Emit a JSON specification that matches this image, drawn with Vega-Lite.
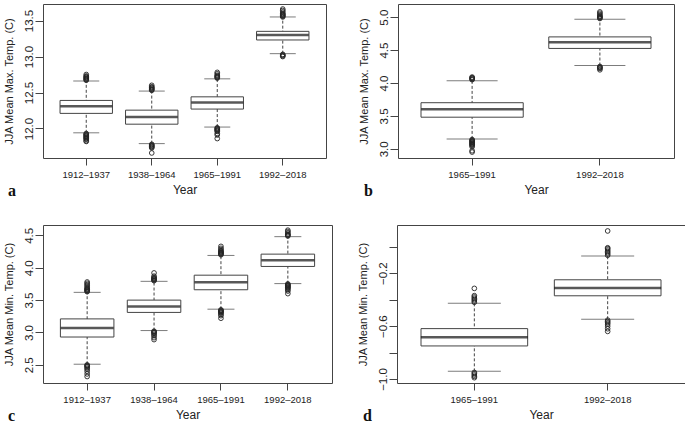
{
  "$schema": "https://vega.github.io/schema/vega-lite/v6.json",
  "padding": {"left": 2, "top": 3, "right": 0, "bottom": 0},
  "background": "white",
  "spacing": 25,
  "config": {
    "font": "Liberation Sans",
    "view": {"stroke": "#444", "strokeWidth": 1},
    "axis": {"grid": false, "domain": false, "tickColor": "#444", "labelColor": "#222", "titleColor": "#222", "labelFont": "Liberation Sans", "titleFont": "Liberation Sans", "titleFontWeight": "normal"},
    "axisX": {"tickSize": 7, "labelPadding": 4, "labelFontSize": 9.5, "titleFontSize": 12, "titlePadding": 6, "labelAngle": 0},
    "axisY": {"tickSize": 8, "labelPadding": 1, "labelFontSize": 11.5, "titleFontSize": 11, "titlePadding": 9, "labelOverlap": false}
  },
  "datasets": {
    "box_a": [
      {"period": "1912–1937", "lo": 11.94, "q1": 12.21, "med": 12.31, "q3": 12.39, "hi": 12.66},
      {"period": "1938–1964", "lo": 11.79, "q1": 12.06, "med": 12.16, "q3": 12.255, "hi": 12.52},
      {"period": "1965–1991", "lo": 12.02, "q1": 12.27, "med": 12.36, "q3": 12.44, "hi": 12.69},
      {"period": "1992–2018", "lo": 13.04, "q1": 13.23, "med": 13.30, "q3": 13.35, "hi": 13.55}
    ],
    "out_a": [
      {"period": "1912–1937", "value": 12.67}, {"period": "1912–1937", "value": 12.68}, {"period": "1912–1937", "value": 12.69}, {"period": "1912–1937", "value": 12.70}, {"period": "1912–1937", "value": 12.71}, {"period": "1912–1937", "value": 12.72}, {"period": "1912–1937", "value": 12.73}, {"period": "1912–1937", "value": 12.75},
      {"period": "1912–1937", "value": 11.93}, {"period": "1912–1937", "value": 11.92}, {"period": "1912–1937", "value": 11.91}, {"period": "1912–1937", "value": 11.90}, {"period": "1912–1937", "value": 11.89}, {"period": "1912–1937", "value": 11.88}, {"period": "1912–1937", "value": 11.87}, {"period": "1912–1937", "value": 11.86}, {"period": "1912–1937", "value": 11.85}, {"period": "1912–1937", "value": 11.83}, {"period": "1912–1937", "value": 11.82},
      {"period": "1938–1964", "value": 12.53}, {"period": "1938–1964", "value": 12.54}, {"period": "1938–1964", "value": 12.55}, {"period": "1938–1964", "value": 12.56}, {"period": "1938–1964", "value": 12.57}, {"period": "1938–1964", "value": 12.58}, {"period": "1938–1964", "value": 12.60},
      {"period": "1938–1964", "value": 11.78}, {"period": "1938–1964", "value": 11.77}, {"period": "1938–1964", "value": 11.76}, {"period": "1938–1964", "value": 11.75}, {"period": "1938–1964", "value": 11.74}, {"period": "1938–1964", "value": 11.73}, {"period": "1938–1964", "value": 11.66},
      {"period": "1965–1991", "value": 12.70}, {"period": "1965–1991", "value": 12.71}, {"period": "1965–1991", "value": 12.72}, {"period": "1965–1991", "value": 12.73}, {"period": "1965–1991", "value": 12.74}, {"period": "1965–1991", "value": 12.76}, {"period": "1965–1991", "value": 12.78},
      {"period": "1965–1991", "value": 12.01}, {"period": "1965–1991", "value": 12.00}, {"period": "1965–1991", "value": 11.99}, {"period": "1965–1991", "value": 11.98}, {"period": "1965–1991", "value": 11.97}, {"period": "1965–1991", "value": 11.96}, {"period": "1965–1991", "value": 11.93}, {"period": "1965–1991", "value": 11.91}, {"period": "1965–1991", "value": 11.86},
      {"period": "1992–2018", "value": 13.55}, {"period": "1992–2018", "value": 13.56}, {"period": "1992–2018", "value": 13.57}, {"period": "1992–2018", "value": 13.58}, {"period": "1992–2018", "value": 13.59}, {"period": "1992–2018", "value": 13.60}, {"period": "1992–2018", "value": 13.62}, {"period": "1992–2018", "value": 13.64}, {"period": "1992–2018", "value": 13.66},
      {"period": "1992–2018", "value": 13.03}, {"period": "1992–2018", "value": 13.02}, {"period": "1992–2018", "value": 13.01}, {"period": "1992–2018", "value": 13.00}
    ],
    "box_b": [
      {"period": "1965–1991", "lo": 3.15, "q1": 3.48, "med": 3.60, "q3": 3.70, "hi": 4.035},
      {"period": "1992–2018", "lo": 4.265, "q1": 4.525, "med": 4.62, "q3": 4.70, "hi": 4.97}
    ],
    "out_b": [
      {"period": "1965–1991", "value": 4.05}, {"period": "1965–1991", "value": 4.06}, {"period": "1965–1991", "value": 4.07}, {"period": "1965–1991", "value": 4.08}, {"period": "1965–1991", "value": 4.09},
      {"period": "1965–1991", "value": 3.14}, {"period": "1965–1991", "value": 3.13}, {"period": "1965–1991", "value": 3.12}, {"period": "1965–1991", "value": 3.11}, {"period": "1965–1991", "value": 3.10}, {"period": "1965–1991", "value": 3.09}, {"period": "1965–1991", "value": 3.08}, {"period": "1965–1991", "value": 3.07}, {"period": "1965–1991", "value": 3.06}, {"period": "1965–1991", "value": 3.05}, {"period": "1965–1991", "value": 3.03}, {"period": "1965–1991", "value": 2.97}, {"period": "1965–1991", "value": 2.95},
      {"period": "1992–2018", "value": 4.98}, {"period": "1992–2018", "value": 4.99}, {"period": "1992–2018", "value": 5.00}, {"period": "1992–2018", "value": 5.01}, {"period": "1992–2018", "value": 5.02}, {"period": "1992–2018", "value": 5.04}, {"period": "1992–2018", "value": 5.06}, {"period": "1992–2018", "value": 5.08},
      {"period": "1992–2018", "value": 4.25}, {"period": "1992–2018", "value": 4.24}, {"period": "1992–2018", "value": 4.23}, {"period": "1992–2018", "value": 4.22}, {"period": "1992–2018", "value": 4.20}
    ],
    "box_c": [
      {"period": "1912–1937", "lo": 2.51, "q1": 2.93, "med": 3.07, "q3": 3.21, "hi": 3.62},
      {"period": "1938–1964", "lo": 3.03, "q1": 3.31, "med": 3.40, "q3": 3.50, "hi": 3.79},
      {"period": "1965–1991", "lo": 3.36, "q1": 3.66, "med": 3.775, "q3": 3.885, "hi": 4.19},
      {"period": "1992–2018", "lo": 3.755, "q1": 4.02, "med": 4.115, "q3": 4.21, "hi": 4.48}
    ],
    "out_c": [
      {"period": "1912–1937", "value": 3.63}, {"period": "1912–1937", "value": 3.64}, {"period": "1912–1937", "value": 3.65}, {"period": "1912–1937", "value": 3.66}, {"period": "1912–1937", "value": 3.67}, {"period": "1912–1937", "value": 3.68}, {"period": "1912–1937", "value": 3.70}, {"period": "1912–1937", "value": 3.72}, {"period": "1912–1937", "value": 3.74}, {"period": "1912–1937", "value": 3.76}, {"period": "1912–1937", "value": 3.78},
      {"period": "1912–1937", "value": 2.50}, {"period": "1912–1937", "value": 2.49}, {"period": "1912–1937", "value": 2.48}, {"period": "1912–1937", "value": 2.47}, {"period": "1912–1937", "value": 2.45}, {"period": "1912–1937", "value": 2.43}, {"period": "1912–1937", "value": 2.40}, {"period": "1912–1937", "value": 2.36}, {"period": "1912–1937", "value": 2.32},
      {"period": "1938–1964", "value": 3.80}, {"period": "1938–1964", "value": 3.81}, {"period": "1938–1964", "value": 3.82}, {"period": "1938–1964", "value": 3.83}, {"period": "1938–1964", "value": 3.84}, {"period": "1938–1964", "value": 3.85}, {"period": "1938–1964", "value": 3.87}, {"period": "1938–1964", "value": 3.92},
      {"period": "1938–1964", "value": 3.02}, {"period": "1938–1964", "value": 3.01}, {"period": "1938–1964", "value": 3.00}, {"period": "1938–1964", "value": 2.99}, {"period": "1938–1964", "value": 2.97}, {"period": "1938–1964", "value": 2.95}, {"period": "1938–1964", "value": 2.92}, {"period": "1938–1964", "value": 2.89},
      {"period": "1965–1991", "value": 4.20}, {"period": "1965–1991", "value": 4.21}, {"period": "1965–1991", "value": 4.22}, {"period": "1965–1991", "value": 4.23}, {"period": "1965–1991", "value": 4.24}, {"period": "1965–1991", "value": 4.25}, {"period": "1965–1991", "value": 4.26}, {"period": "1965–1991", "value": 4.28}, {"period": "1965–1991", "value": 4.30}, {"period": "1965–1991", "value": 4.33},
      {"period": "1965–1991", "value": 3.35}, {"period": "1965–1991", "value": 3.34}, {"period": "1965–1991", "value": 3.33}, {"period": "1965–1991", "value": 3.32}, {"period": "1965–1991", "value": 3.31}, {"period": "1965–1991", "value": 3.30}, {"period": "1965–1991", "value": 3.28}, {"period": "1965–1991", "value": 3.26}, {"period": "1965–1991", "value": 3.22},
      {"period": "1992–2018", "value": 4.49}, {"period": "1992–2018", "value": 4.50}, {"period": "1992–2018", "value": 4.51}, {"period": "1992–2018", "value": 4.52}, {"period": "1992–2018", "value": 4.54}, {"period": "1992–2018", "value": 4.56}, {"period": "1992–2018", "value": 4.58},
      {"period": "1992–2018", "value": 3.75}, {"period": "1992–2018", "value": 3.74}, {"period": "1992–2018", "value": 3.73}, {"period": "1992–2018", "value": 3.72}, {"period": "1992–2018", "value": 3.71}, {"period": "1992–2018", "value": 3.70}, {"period": "1992–2018", "value": 3.69}, {"period": "1992–2018", "value": 3.68}, {"period": "1992–2018", "value": 3.66}, {"period": "1992–2018", "value": 3.64}, {"period": "1992–2018", "value": 3.60}
    ],
    "box_d": [
      {"period": "1965–1991", "lo": -0.942, "q1": -0.75, "med": -0.684, "q3": -0.619, "hi": -0.427},
      {"period": "1992–2018", "lo": -0.548, "q1": -0.371, "med": -0.313, "q3": -0.25, "hi": -0.071}
    ],
    "out_d": [
      {"period": "1965–1991", "value": -0.42}, {"period": "1965–1991", "value": -0.41}, {"period": "1965–1991", "value": -0.40}, {"period": "1965–1991", "value": -0.39}, {"period": "1965–1991", "value": -0.38}, {"period": "1965–1991", "value": -0.37}, {"period": "1965–1991", "value": -0.315},
      {"period": "1965–1991", "value": -0.95}, {"period": "1965–1991", "value": -0.96}, {"period": "1965–1991", "value": -0.97}, {"period": "1965–1991", "value": -0.98}, {"period": "1965–1991", "value": -0.99},
      {"period": "1992–2018", "value": -0.065}, {"period": "1992–2018", "value": -0.055}, {"period": "1992–2018", "value": -0.045}, {"period": "1992–2018", "value": -0.035}, {"period": "1992–2018", "value": -0.025}, {"period": "1992–2018", "value": -0.015}, {"period": "1992–2018", "value": -0.008}, {"period": "1992–2018", "value": 0.119},
      {"period": "1992–2018", "value": -0.555}, {"period": "1992–2018", "value": -0.565}, {"period": "1992–2018", "value": -0.575}, {"period": "1992–2018", "value": -0.585}, {"period": "1992–2018", "value": -0.60}, {"period": "1992–2018", "value": -0.62}, {"period": "1992–2018", "value": -0.64}
    ]
  },
  "vconcat": [
    {
      "spacing": 30,
      "hconcat": [
        {
          "width": 283, "height": 154,
          "title": {"text": "a", "orient": "bottom", "anchor": "start", "frame": "bounds", "baseline": "alphabetic", "offset": 0, "dx": 5, "font": "Liberation Serif", "fontWeight": "bold", "fontSize": 16, "color": "#111"},
          "encoding": {"x": {"field": "period", "type": "nominal", "scale": {"paddingInner": 0, "paddingOuter": 0.16}, "axis": {"title": "Year", "labelAngle": 0}}},
          "layer": [
            {"data": {"name": "box_a"}, "mark": {"type": "rule", "strokeDash": [3, 2], "color": "#444", "strokeWidth": 1},
             "encoding": {"y": {"field": "lo", "type": "quantitative", "title": "JJA Mean Max. Temp. (C)", "scale": {"domain": [11.59, 13.73], "nice": false, "zero": false}, "axis": {"values": [12, 12.5, 13, 13.5], "tickCount": 20, "format": ".1f", "labelAngle": -90, "labelAlign": "center", "labelBaseline": "bottom", "labelOverlap": false}}, "y2": {"field": "hi"}}},
            {"data": {"name": "box_a"}, "mark": {"type": "bar", "width": {"band": 0.8}, "fill": "white", "stroke": "#444", "strokeWidth": 1},
             "encoding": {"y": {"field": "q1", "type": "quantitative", "title": "JJA Mean Max. Temp. (C)", "scale": {"domain": [11.59, 13.73], "nice": false, "zero": false}}, "y2": {"field": "q3"}}},
            {"data": {"name": "box_a"}, "mark": {"type": "tick", "size": 52, "thickness": 2.5, "color": "#111"},
             "encoding": {"y": {"field": "med", "type": "quantitative", "title": "JJA Mean Max. Temp. (C)", "scale": {"domain": [11.59, 13.73], "nice": false, "zero": false}}}},
            {"data": {"name": "box_a"}, "mark": {"type": "tick", "size": 26, "thickness": 1, "color": "#444"},
             "encoding": {"y": {"field": "lo", "type": "quantitative", "title": "JJA Mean Max. Temp. (C)", "scale": {"domain": [11.59, 13.73], "nice": false, "zero": false}}}},
            {"data": {"name": "box_a"}, "mark": {"type": "tick", "size": 26, "thickness": 1, "color": "#444"},
             "encoding": {"y": {"field": "hi", "type": "quantitative", "title": "JJA Mean Max. Temp. (C)", "scale": {"domain": [11.59, 13.73], "nice": false, "zero": false}}}},
            {"data": {"name": "out_a"}, "mark": {"type": "point", "shape": "circle", "filled": false, "size": 22, "strokeWidth": 0.9, "color": "#222", "opacity": 1},
             "encoding": {"y": {"field": "value", "type": "quantitative", "title": "JJA Mean Max. Temp. (C)", "scale": {"domain": [11.59, 13.73], "nice": false, "zero": false}}}}
          ]
        },
        {
          "width": 276, "height": 154,
          "title": {"text": "b", "orient": "bottom", "anchor": "start", "frame": "bounds", "baseline": "alphabetic", "offset": 0, "dx": 6, "font": "Liberation Serif", "fontWeight": "bold", "fontSize": 16, "color": "#111"},
          "encoding": {"x": {"field": "period", "type": "nominal", "scale": {"paddingInner": 0, "paddingOuter": 0.08}, "axis": {"title": "Year", "labelAngle": 0}}},
          "layer": [
            {"data": {"name": "box_b"}, "mark": {"type": "rule", "strokeDash": [3, 2], "color": "#444", "strokeWidth": 1},
             "encoding": {"y": {"field": "lo", "type": "quantitative", "title": "JJA Mean Max. Temp. (C)", "scale": {"domain": [2.86, 5.2], "nice": false, "zero": false}, "axis": {"values": [3, 3.5, 4, 4.5, 5], "tickCount": 20, "format": ".1f", "labelAngle": -90, "labelAlign": "center", "labelBaseline": "bottom", "labelOverlap": false}}, "y2": {"field": "hi"}}},
            {"data": {"name": "box_b"}, "mark": {"type": "bar", "width": {"band": 0.8}, "fill": "white", "stroke": "#444", "strokeWidth": 1},
             "encoding": {"y": {"field": "q1", "type": "quantitative", "title": "JJA Mean Max. Temp. (C)", "scale": {"domain": [2.86, 5.2], "nice": false, "zero": false}}, "y2": {"field": "q3"}}},
            {"data": {"name": "box_b"}, "mark": {"type": "tick", "size": 102, "thickness": 2.5, "color": "#111"},
             "encoding": {"y": {"field": "med", "type": "quantitative", "title": "JJA Mean Max. Temp. (C)", "scale": {"domain": [2.86, 5.2], "nice": false, "zero": false}}}},
            {"data": {"name": "box_b"}, "mark": {"type": "tick", "size": 51, "thickness": 1, "color": "#444"},
             "encoding": {"y": {"field": "lo", "type": "quantitative", "title": "JJA Mean Max. Temp. (C)", "scale": {"domain": [2.86, 5.2], "nice": false, "zero": false}}}},
            {"data": {"name": "box_b"}, "mark": {"type": "tick", "size": 51, "thickness": 1, "color": "#444"},
             "encoding": {"y": {"field": "hi", "type": "quantitative", "title": "JJA Mean Max. Temp. (C)", "scale": {"domain": [2.86, 5.2], "nice": false, "zero": false}}}},
            {"data": {"name": "out_b"}, "mark": {"type": "point", "shape": "circle", "filled": false, "size": 22, "strokeWidth": 0.9, "color": "#222", "opacity": 1},
             "encoding": {"y": {"field": "value", "type": "quantitative", "title": "JJA Mean Max. Temp. (C)", "scale": {"domain": [2.86, 5.2], "nice": false, "zero": false}}}}
          ]
        }
      ]
    },
    {
      "spacing": 23,
      "hconcat": [
        {
          "width": 289, "height": 158,
          "title": {"text": "c", "orient": "bottom", "anchor": "start", "frame": "bounds", "baseline": "alphabetic", "offset": 0, "dx": 5, "font": "Liberation Serif", "fontWeight": "bold", "fontSize": 16, "color": "#111"},
          "encoding": {"x": {"field": "period", "type": "nominal", "scale": {"paddingInner": 0, "paddingOuter": 0.16}, "axis": {"title": "Year", "labelAngle": 0}}},
          "layer": [
            {"data": {"name": "box_c"}, "mark": {"type": "rule", "strokeDash": [3, 2], "color": "#444", "strokeWidth": 1},
             "encoding": {"y": {"field": "lo", "type": "quantitative", "title": "JJA Mean Min. Temp. (C)", "scale": {"domain": [2.22, 4.66], "nice": false, "zero": false}, "axis": {"values": [2.5, 3, 3.5, 4, 4.5], "tickCount": 20, "format": ".1f", "labelAngle": -90, "labelAlign": "center", "labelBaseline": "bottom", "labelOverlap": false}}, "y2": {"field": "hi"}}},
            {"data": {"name": "box_c"}, "mark": {"type": "bar", "width": {"band": 0.8}, "fill": "white", "stroke": "#444", "strokeWidth": 1},
             "encoding": {"y": {"field": "q1", "type": "quantitative", "title": "JJA Mean Min. Temp. (C)", "scale": {"domain": [2.22, 4.66], "nice": false, "zero": false}}, "y2": {"field": "q3"}}},
            {"data": {"name": "box_c"}, "mark": {"type": "tick", "size": 53, "thickness": 2.5, "color": "#111"},
             "encoding": {"y": {"field": "med", "type": "quantitative", "title": "JJA Mean Min. Temp. (C)", "scale": {"domain": [2.22, 4.66], "nice": false, "zero": false}}}},
            {"data": {"name": "box_c"}, "mark": {"type": "tick", "size": 27, "thickness": 1, "color": "#444"},
             "encoding": {"y": {"field": "lo", "type": "quantitative", "title": "JJA Mean Min. Temp. (C)", "scale": {"domain": [2.22, 4.66], "nice": false, "zero": false}}}},
            {"data": {"name": "box_c"}, "mark": {"type": "tick", "size": 27, "thickness": 1, "color": "#444"},
             "encoding": {"y": {"field": "hi", "type": "quantitative", "title": "JJA Mean Min. Temp. (C)", "scale": {"domain": [2.22, 4.66], "nice": false, "zero": false}}}},
            {"data": {"name": "out_c"}, "mark": {"type": "point", "shape": "circle", "filled": false, "size": 22, "strokeWidth": 0.9, "color": "#222", "opacity": 1},
             "encoding": {"y": {"field": "value", "type": "quantitative", "title": "JJA Mean Min. Temp. (C)", "scale": {"domain": [2.22, 4.66], "nice": false, "zero": false}}}}
          ]
        },
        {
          "width": 288, "height": 158,
          "title": {"text": "d", "orient": "bottom", "anchor": "start", "frame": "bounds", "baseline": "alphabetic", "offset": 0, "dx": 6, "font": "Liberation Serif", "fontWeight": "bold", "fontSize": 16, "color": "#111"},
          "encoding": {"x": {"field": "period", "type": "nominal", "scale": {"paddingInner": 0, "paddingOuter": 0.08}, "axis": {"title": "Year", "labelAngle": 0}}},
          "layer": [
            {"data": {"name": "box_d"}, "mark": {"type": "rule", "strokeDash": [3, 2], "color": "#444", "strokeWidth": 1},
             "encoding": {"y": {"field": "lo", "type": "quantitative", "title": "JJA Mean Min. Temp. (C)", "scale": {"domain": [-1.03, 0.164], "nice": false, "zero": false}, "axis": {"values": [-1, -0.8, -0.6, -0.4, -0.2, 0], "tickCount": 20, "labelExpr": "(datum.value < -0.9 || (datum.value > -0.7 && datum.value < -0.5) || (datum.value > -0.3 && datum.value < -0.1)) ? replace(format(datum.value, '.1f'), '-', '−') : ''", "labelAngle": -90, "labelAlign": "center", "labelBaseline": "bottom", "labelOverlap": false}}, "y2": {"field": "hi"}}},
            {"data": {"name": "box_d"}, "mark": {"type": "bar", "width": {"band": 0.8}, "fill": "white", "stroke": "#444", "strokeWidth": 1},
             "encoding": {"y": {"field": "q1", "type": "quantitative", "title": "JJA Mean Min. Temp. (C)", "scale": {"domain": [-1.03, 0.164], "nice": false, "zero": false}}, "y2": {"field": "q3"}}},
            {"data": {"name": "box_d"}, "mark": {"type": "tick", "size": 107, "thickness": 2.5, "color": "#111"},
             "encoding": {"y": {"field": "med", "type": "quantitative", "title": "JJA Mean Min. Temp. (C)", "scale": {"domain": [-1.03, 0.164], "nice": false, "zero": false}}}},
            {"data": {"name": "box_d"}, "mark": {"type": "tick", "size": 53, "thickness": 1, "color": "#444"},
             "encoding": {"y": {"field": "lo", "type": "quantitative", "title": "JJA Mean Min. Temp. (C)", "scale": {"domain": [-1.03, 0.164], "nice": false, "zero": false}}}},
            {"data": {"name": "box_d"}, "mark": {"type": "tick", "size": 53, "thickness": 1, "color": "#444"},
             "encoding": {"y": {"field": "hi", "type": "quantitative", "title": "JJA Mean Min. Temp. (C)", "scale": {"domain": [-1.03, 0.164], "nice": false, "zero": false}}}},
            {"data": {"name": "out_d"}, "mark": {"type": "point", "shape": "circle", "filled": false, "size": 22, "strokeWidth": 0.9, "color": "#222", "opacity": 1},
             "encoding": {"y": {"field": "value", "type": "quantitative", "title": "JJA Mean Min. Temp. (C)", "scale": {"domain": [-1.03, 0.164], "nice": false, "zero": false}}}}
          ]
        }
      ]
    }
  ]
}
